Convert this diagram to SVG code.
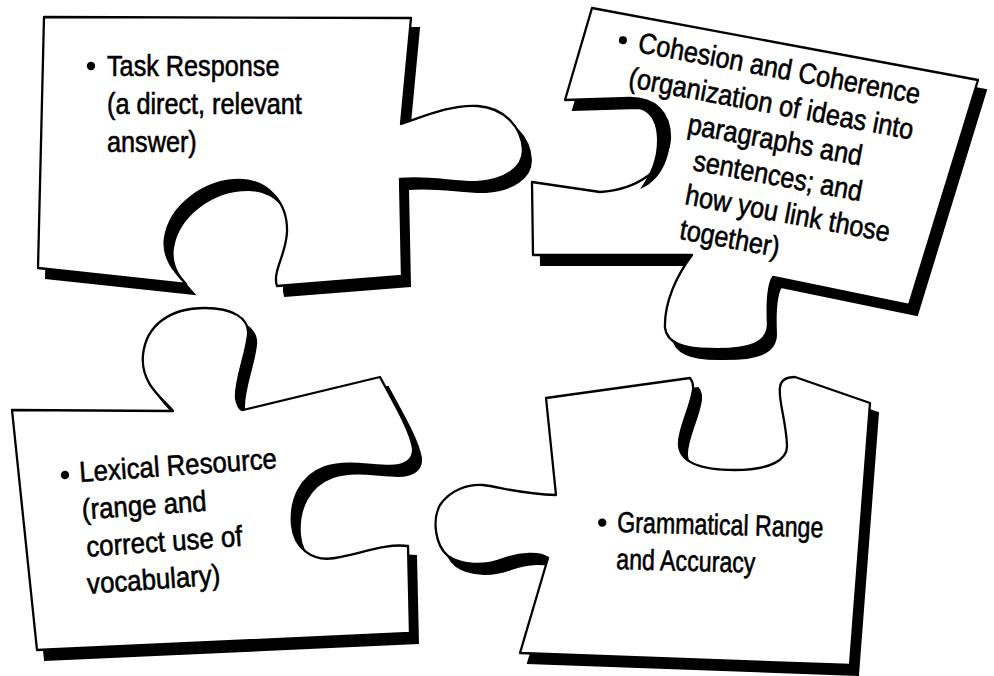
<svg xmlns="http://www.w3.org/2000/svg" xmlns:xlink="http://www.w3.org/1999/xlink" width="994" height="676" viewBox="0 0 994 676">
  <style>
    .shadow { fill: #000; stroke: #000; stroke-width: 2; }
    .piece { fill: #fff; stroke: #000; stroke-width: 2.3; stroke-linejoin: round; }
    .t { font-family: "Liberation Sans", Arial, sans-serif; font-size: 29px; fill: #000; stroke: #000; stroke-width: 0.6; }
    .dot { fill: #000; }
  </style>
  <defs>
    <!-- puzzle piece outlines -->
    <path id="shape-task" d="M 44,17 L 411,18 L 401,124 C 420,118 450,104 478,106 C 505,108 522,128 523,150 C 523,168 505,180 478,182 C 455,183 430,176 400,179 L 402,276 L 277,286 C 272,272 286,255 287,232 C 288,200 265,180 240,180 C 205,180 170,205 165,238 C 162,258 175,272 186,284 L 38,268 Z"/>
    <path id="shape-cohesion" d="M 592,8 L 978,80 L 909,305 L 773,277 C 768,285 767,302 768,324 C 768,343 750,350 710,349 C 685,349 667,343 665,328 C 664,302 677,275 692,255 L 533,255 L 532,182 L 600,192 C 635,190 668,170 670,138 C 670,112 655,98 630,98 L 565,100 Z"/>
    <path id="shape-lexical" d="M 12,410 L 173,411 C 165,400 140,385 143,355 C 146,325 170,308 205,308 C 232,308 250,318 248,335 C 246,355 235,380 236,398 C 237,405 240,410 243,410 L 380,377 C 395,405 410,430 413,448 C 414,460 405,466 390,466 C 370,466 348,460 325,467 C 300,476 290,500 292,525 C 294,548 312,562 335,558 C 360,554 385,543 408,546 L 410,633 L 37,650 Z"/>
    <path id="shape-grammar" d="M 546,398 L 690,378 C 694,383 693,386 693,390 C 690,410 678,430 679,445 C 680,462 700,470 735,470 C 770,470 788,460 787,445 C 786,420 778,400 780,387 C 781,380 786,377 795,377 L 870,403 L 850,665 L 520,653 L 548,558 C 540,552 520,553 503,559 C 485,566 462,566 448,556 C 435,545 432,520 440,505 C 450,490 468,484 483,485 C 500,487 520,494 556,495 Z"/>
  </defs>

  <rect width="994" height="676" fill="#fff"/>

  <g id="piece-task">
    <use xlink:href="#shape-task" class="shadow" transform="translate(8,10)"/>
    <use xlink:href="#shape-task" class="piece"/>
    <circle class="dot" cx="91" cy="66" r="4.2"/>
    <g transform="translate(107,76) scale(0.87,1)">
      <text class="t" x="0" y="0">Task Response</text>
      <text class="t" x="0" y="38">(a direct, relevant</text>
      <text class="t" x="0" y="76">answer)</text>
    </g>
  </g>

  <g id="piece-cohesion">
    <use xlink:href="#shape-cohesion" class="shadow" transform="translate(8,10)"/>
    <use xlink:href="#shape-cohesion" class="piece"/>
    <!-- shading inside the notch on its far wall -->
    <path class="dot" d="M 635,99 C 660,101 671,118 670,140 C 669,165 656,183 640,189 C 650,175 657,160 657,140 C 657,122 650,110 635,108 Z"/>
    <g transform="translate(637,52) rotate(10.5)">
      <circle class="dot" cx="-16" cy="-9" r="4"/>
      <g transform="scale(0.87,1)">
        <text class="t" x="0" y="0">Cohesion and Coherence</text>
        <text class="t" x="-3.5" y="36">(organization of ideas into</text>
        <text class="t" x="73" y="71">paragraphs and</text>
        <text class="t" x="87" y="106">sentences; and</text>
        <text class="t" x="85" y="141">how you link those</text>
        <text class="t" x="86" y="176">together)</text>
      </g>
    </g>
  </g>

  <g id="piece-lexical">
    <use xlink:href="#shape-lexical" class="shadow" transform="translate(8,10)"/>
    <use xlink:href="#shape-lexical" class="piece"/>
    <g transform="translate(80,482) rotate(-4)">
      <circle class="dot" cx="-14.5" cy="-8" r="4.2"/>
      <g transform="scale(0.89,1)">
        <text class="t" x="0" y="0">Lexical Resource</text>
        <text class="t" x="0" y="37.5">(range and</text>
        <text class="t" x="2" y="75">correct use of</text>
        <text class="t" x="0" y="112">vocabulary)</text>
      </g>
    </g>
  </g>

  <g id="piece-grammar">
    <use xlink:href="#shape-grammar" class="shadow" transform="translate(8,10)"/>
    <use xlink:href="#shape-grammar" class="piece"/>
    <g transform="translate(617,532) rotate(1.5)">
      <circle class="dot" cx="-15" cy="-9" r="4.2"/>
      <g transform="scale(0.8,1)">
        <text class="t" x="0" y="0">Grammatical Range</text>
        <text class="t" x="0" y="37">and Accuracy</text>
      </g>
    </g>
  </g>

  <g id="connectors"/>
</svg>
